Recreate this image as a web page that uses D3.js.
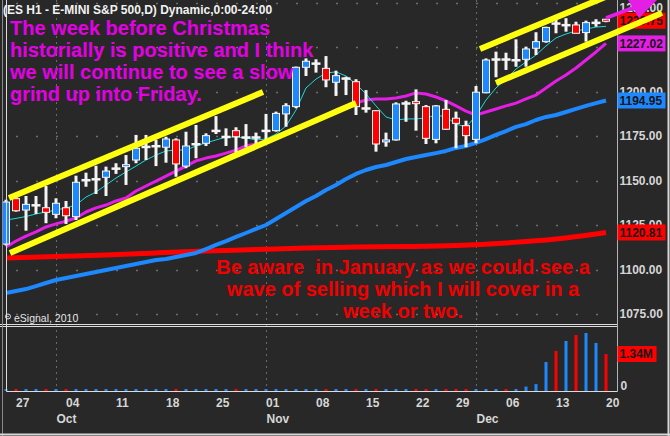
<!DOCTYPE html>
<html><head><meta charset="utf-8">
<script src="https://cdn.jsdelivr.net/npm/d3@7"></script>
<style>
html,body{margin:0;padding:0;background:#282828;}
svg{display:block;}
text{font-family:"Liberation Sans",Arial,sans-serif;}
</style>
</head><body>
<svg id="c" width="670" height="436"></svg>
<script>
// ---------------- DATA ----------------
const dates = [
 "2010-09-24","2010-09-27","2010-09-28","2010-09-29","2010-09-30",
 "2010-10-01","2010-10-04","2010-10-05","2010-10-06","2010-10-07","2010-10-08",
 "2010-10-11","2010-10-12","2010-10-13","2010-10-14","2010-10-15",
 "2010-10-18","2010-10-19","2010-10-20","2010-10-21","2010-10-22",
 "2010-10-25","2010-10-26","2010-10-27","2010-10-28","2010-10-29",
 "2010-11-01","2010-11-02","2010-11-03","2010-11-04","2010-11-05",
 "2010-11-08","2010-11-09","2010-11-10","2010-11-11","2010-11-12",
 "2010-11-15","2010-11-16","2010-11-17","2010-11-18","2010-11-19",
 "2010-11-22","2010-11-23","2010-11-24","2010-11-26",
 "2010-11-29","2010-11-30","2010-12-01","2010-12-02","2010-12-03",
 "2010-12-06","2010-12-07","2010-12-08","2010-12-09","2010-12-10",
 "2010-12-13","2010-12-14","2010-12-15","2010-12-16","2010-12-17",
 "2010-12-20"];

const openP = [1114.3,1139.8,1133.4,1136.2,1134.7,1131.0,1134.7,1129.7,1150.3,1150.8,
 1151.8,1156.8,1157.8,1161.5,1169.0,1169.4,1168.7,1172.8,1158.1,1170.5,
 1170.9,1178.0,1174.6,1178.0,1174.3,1174.3,1178.0,1178.0,1187.4,1191.5,
 1213.6,1215.8,1213.0,1205.2,1207.4,1205.5,1190.6,1189.2,1172.0,1172.8,
 1193.4,1194.3,1191.5,1173.1,1190.0,1185.0,1180.8,1173.1,1199.3,1218.1,
 1218.1,1217.7,1218.1,1224.3,1228.0,1238.3,1237.4,1237.4,1233.1,1238.7,
 1240.6];
const highP = [1139.2,1140.9,1141.3,1141.3,1146.9,1140.0,1138.5,1152.7,1154.4,1158.3,
 1157.8,1159.7,1164.3,1175.6,1175.6,1172.8,1174.6,1173.7,1177.4,1181.2,
 1176.5,1186.2,1179.3,1179.9,1181.7,1176.9,1187.4,1188.7,1193.4,1214.0,
 1218.6,1218.1,1219.9,1211.7,1208.3,1206.9,1200.8,1189.6,1176.9,1193.9,
 1194.8,1201.2,1192.4,1192.4,1195.2,1188.7,1183.6,1203.1,1218.6,1222.4,
 1221.8,1229.3,1225.2,1233.3,1236.4,1240.2,1241.2,1239.2,1239.8,1240.6,
 1240.8];
const lowP = [1113.5,1132.5,1121.8,1131.2,1126.0,1128.8,1125.6,1127.8,1146.5,1142.4,
 1141.3,1153.7,1147.5,1159.7,1161.5,1158.1,1160.0,1152.1,1156.9,1162.5,
 1169.4,1176.1,1169.4,1165.6,1168.7,1169.0,1172.8,1177.4,1180.2,1190.6,
 1208.7,1210.6,1202.4,1197.5,1198.0,1186.8,1188.1,1166.2,1169.0,1172.4,
 1183.0,1178.0,1170.5,1170.9,1178.4,1168.1,1168.7,1170.9,1199.0,1208.0,
 1212.1,1213.9,1213.9,1220.5,1227.4,1232.7,1233.6,1232.7,1228.0,1236.4,
 1238.9];
const closeP = [1137.9,1133.0,1136.6,1136.2,1132.1,1137.2,1130.2,1149.0,1150.3,1150.8,
 1155.3,1156.8,1158.9,1168.1,1169.0,1169.4,1173.3,1159.3,1169.4,1170.5,
 1175.2,1178.0,1174.6,1174.6,1174.3,1174.3,1178.0,1187.7,1192.0,1213.6,
 1217.0,1215.8,1206.5,1208.9,1207.4,1191.5,1190.6,1170.5,1172.8,1193.0,
 1193.4,1193.4,1173.7,1191.9,1178.8,1182.1,1175.2,1199.6,1217.7,1218.1,
 1218.1,1217.7,1223.9,1228.0,1236.0,1238.3,1237.4,1232.7,1238.7,1238.7,
 1239.75];

// volume in millions, and up/down colouring
const volume = [0.02,0.02,0.02,0.02,0.02,0.02,0.02,0.02,0.02,0.02,
 0.02,0.02,0.02,0.02,0.02,0.02,0.02,0.02,0.02,0.02,
 0.02,0.02,0.02,0.02,0.02,0.02,0.02,0.02,0.02,0.02,
 0.02,0.02,0.02,0.02,0.02,0.02,0.02,0.02,0.02,0.02,
 0.02,0.02,0.02,0.02,0.02,0.02,0.02,0.02,0.02,0.02,
 0.07,0.05,0.16,0.25,1.05,1.45,1.81,2.03,2.10,1.74,
 1.34];
const volDir = ["u","d","u","u","d","u","d","u","u","u",
 "u","u","u","u","u","u","u","d","u","u",
 "u","u","u","d","u","u","u","u","u","u",
 "u","u","d","u","u","d","u","d","u","u",
 "u","d","d","u","d","d","d","u","u","u",
 "d","u","u","u","u","d","u","d","u","u",
 "d"];

// moving averages
const maFast = [1127.8,1128.7,1129.8,1131.2,1132.3,1133.4,1134.6,1136.2,1140.7,1143.5,
 1147.5,1151.4,1154.8,1158.1,1161.5,1164.3,1166.6,1167.1,1167.1,1169.4,
 1171.1,1172.8,1174.4,1174.4,1173.9,1172.8,1173.3,1176.1,1180.6,1189.6,
 1202.0,1207.0,1210.4,1211.0,1208.7,1204.2,1198.6,1191.9,1185.7,1184.0,
 1184.6,1184.6,1185.1,1186.8,1185.7,1181.7,1180.1,1186.2,1195.2,1202.0,
 1207.0,1212.6,1216.6,1220.5,1225.6,1230.1,1232.3,1234.0,1235.1,1236.2,
 1236.6];
const maMid = [1112.6,1116.0,1118.8,1121.1,1123.9,1125.6,1127.2,1128.9,1132.3,1134.6,
 1136.2,1138.5,1140.2,1144.1,1146.9,1149.7,1152.5,1155.3,1158.1,1161.0,
 1162.6,1163.8,1165.4,1167.1,1169.4,1170.5,1172.2,1174.4,1177.2,1179.5,
 1181.2,1183.4,1186.8,1189.6,1191.9,1193.5,1195.2,1195.8,1195.8,1196.3,
 1197.5,1199.2,1198.6,1196.9,1194.7,1191.9,1189.0,1186.8,1188.5,1190.2,
 1191.9,1193.5,1195.8,1198.0,1202.0,1205.9,1209.3,1213.2,1217.7,1222.2,
 1227.02];
const maSlow = [1086.8,1087.9,1089.0,1090.7,1092.4,1094.1,1095.2,1096.3,1097.5,1098.6,
 1099.7,1100.8,1102.0,1103.1,1104.2,1105.3,1105.9,1107.0,1108.1,1109.3,
 1111.5,1113.8,1116.0,1118.3,1120.5,1122.8,1125.0,1128.4,1131.7,1135.1,
 1138.5,1141.3,1144.7,1147.5,1150.8,1153.7,1155.9,1157.6,1158.7,1160.4,
 1162.1,1163.2,1164.3,1165.4,1166.6,1168.3,1169.4,1171.1,1173.3,1175.6,
 1177.8,1180.1,1181.7,1184.0,1185.7,1186.8,1188.5,1190.2,1191.9,1193.5,
 1194.95];
const maLongIdx = [0,5,10,15,20,25,30,35,40,45,50,55,60];
const maLong = [1106.5,1107.3,1108.1,1109.3,1110.4,1111.2,1112.1,1112.6,1112.9,1113.5,1114.9,1117.1,1120.81];

// hand-drawn trend lines: [bar index, price] pairs
const trendLines = [
  [[0.3,1140.2],[25.7,1199.7]],
  [[0.4,1109.3],[35.0,1193.5]],
  [[47.4,1223.9],[61.1,1255.8]],
  [[49.0,1204.8],[65.6,1244.1]]
];

const gridTicks = [1075,1100,1125,1150,1175,1200,1225,1250];
const priceTicks = [1075,1100,1125,1150,1175,1200,1250];
const dayTicks = ["2010-09-27","2010-10-04","2010-10-11","2010-10-18","2010-10-25",
 "2010-11-01","2010-11-08","2010-11-15","2010-11-22","2010-11-29",
 "2010-12-06","2010-12-13","2010-12-20"];
const monthTicks = ["2010-10-01","2010-11-01","2010-12-01"];
const monthNames = ["Oct","Nov","Dec"];
const volTicks = [0];

const titleText = "(ES H1 - E-MINI S&P 500,D) Dynamic,0:00-24:00";
const noteMagenta = ["The week before Christmas","historially is positive and I think",
 "we will continue to see a slow","grind up into Friday."];
const noteRed = ["Be aware  in January as we could see a","wave of selling which I will cover in a","week or two."];

// ---------------- DRAW ----------------
const svg = d3.select("#c");
const BG = "#282828", BLUE = "#1e88ff", RED = "#ff0000", MAG = "#e41ee4", CYAN = "#16dcdc", YEL = "#ffff10";
const plotL = 6.5, plotR = 617.5, volBase = 391.5;

const x = d3.scalePoint().domain(dates).range([6, 606]);
const xi = d3.scaleLinear().domain([0, dates.length - 1]).range([6, 606]);
const y = d3.scaleLinear().domain([1075, 1250]).range([314, 2.5]);
const yv = d3.scaleLinear().domain([0, 2.1]).range([391, 333]);

svg.append("rect").attr("width", 670).attr("height", 436).attr("fill", BG);

// grid
const grid = svg.append("g");
grid.selectAll("line.h").data(gridTicks).join("line")
  .attr("x1", 16).attr("x2", 616).attr("y1", d => Math.round(y(d)) + 0.5).attr("y2", d => Math.round(y(d)) + 0.5)
  .attr("stroke", "#6e6e6e").attr("stroke-width", 1.5).attr("stroke-dasharray", "2,18");
grid.selectAll("line.v").data(monthTicks).join("line")
  .attr("x1", d => x(d) + 0.5).attr("x2", d => x(d) + 0.5).attr("y1", 0).attr("y2", 391)
  .attr("stroke", "#6a6a6a").attr("stroke-width", 1).attr("stroke-dasharray", "2,4");

// moving averages
const lineI = d3.line().x((d, i) => xi(i)).y(d => y(d));
svg.append("path").datum(maLong.map((v, k) => [maLongIdx[k], v]))
  .attr("d", d3.line().x(d => xi(d[0])).y(d => y(d[1])).curve(d3.curveMonotoneX))
  .attr("fill", "none").attr("stroke", RED).attr("stroke-width", 5);
svg.append("path").datum(maSlow).attr("d", lineI)
  .attr("fill", "none").attr("stroke", BLUE).attr("stroke-width", 4).attr("stroke-linejoin", "round");
svg.append("path").datum(maMid).attr("d", lineI)
  .attr("fill", "none").attr("stroke", MAG).attr("stroke-width", 3).attr("stroke-linejoin", "round");
svg.append("path").datum(maFast).attr("d", lineI)
  .attr("fill", "none").attr("stroke", CYAN).attr("stroke-width", 1);

// candles
const bars = dates.map((d, i) => ({d, i, o: openP[i], h: highP[i], l: lowP[i], c: closeP[i], v: volume[i], dir: volDir[i]}));
const cg = svg.append("g");
cg.selectAll("line.w").data(bars).join("line")
  .attr("x1", b => x(b.d)).attr("x2", b => x(b.d))
  .attr("y1", b => y(b.h)).attr("y2", b => y(b.l))
  .attr("stroke", "#f4f4f4").attr("stroke-width", 3);
const doji = bars.filter(b => Math.abs(b.c - b.o) < 0.3);
const body = bars.filter(b => Math.abs(b.c - b.o) >= 0.3);
cg.selectAll("rect.dj").data(doji).join("rect")
  .attr("x", b => x(b.d) - 4.5).attr("y", b => y(b.c) - 1).attr("width", 9).attr("height", 2.5)
  .attr("fill", "#f4f4f4");
cg.selectAll("rect.bd").data(body).join("rect")
  .attr("x", b => x(b.d) - 3.5)
  .attr("y", b => y(Math.max(b.o, b.c)))
  .attr("width", 7)
  .attr("height", b => Math.max(2, y(Math.min(b.o, b.c)) - y(Math.max(b.o, b.c))))
  .attr("fill", b => b.c > b.o ? BLUE : RED)
  .attr("stroke", "#f4f4f4").attr("stroke-width", 1);

// volume
svg.append("g").selectAll("line").data(bars).join("line")
  .attr("x1", b => x(b.d)).attr("x2", b => x(b.d))
  .attr("y1", yv(0)).attr("y2", b => Math.min(yv(0) - 2, yv(b.v)))
  .attr("stroke", b => b.dir === "u" ? BLUE : RED).attr("stroke-width", 3);

// frame lines
const fr = svg.append("g").attr("stroke", "#dcdcdc").attr("stroke-width", 1);
fr.append("line").attr("x1", 0).attr("x2", plotR).attr("y1", 324.5).attr("y2", 324.5);
fr.append("line").attr("x1", 0).attr("x2", plotR).attr("y1", 326.5).attr("y2", 326.5);
fr.append("line").attr("x1", plotL).attr("x2", plotL).attr("y1", 0).attr("y2", volBase);
fr.append("line").attr("x1", plotL).attr("x2", plotR).attr("y1", volBase).attr("y2", volBase);
fr.append("line").attr("x1", plotR).attr("x2", plotR).attr("y1", 0).attr("y2", volBase).attr("stroke", "#b4b4b4");
svg.append("line").attr("x1", 2.5).attr("x2", 2.5).attr("y1", 0).attr("y2", 436).attr("stroke", "#8a8a8a");
svg.append("line").attr("x1", 0).attr("x2", 670).attr("y1", 434.5).attr("y2", 434.5).attr("stroke", "#d8d8d8").attr("stroke-width", 2);
svg.append("line").attr("x1", 668.5).attr("x2", 668.5).attr("y1", 0).attr("y2", 436).attr("stroke", "#d8d8d8").attr("stroke-width", 2);

// price axis
const axY = svg.append("g").attr("transform", `translate(${plotR},0)`)
  .call(d3.axisRight(y).tickValues(priceTicks).tickFormat(d3.format(".2f")).tickSize(0).tickPadding(2));
axY.select(".domain").remove();
axY.selectAll("text").attr("fill", "#d6d6d6").attr("font-size", 12).attr("font-weight", "bold")
  .attr("font-family", "Liberation Sans, Arial, sans-serif");
axY.selectAll(".tick").filter(d => y(d) < 8).select("text").attr("y", 8 - y(1250));

// volume axis
const axV = svg.append("g").attr("transform", `translate(${plotR},0)`)
  .call(d3.axisRight(yv).tickValues(volTicks).tickFormat(d3.format("d")).tickSize(0).tickPadding(3));
axV.select(".domain").remove();
axV.selectAll("text").attr("fill", "#d6d6d6").attr("font-size", 12).attr("font-weight", "bold")
  .attr("font-family", "Liberation Sans, Arial, sans-serif").attr("y", -5);

// date axis
const axX = svg.append("g").attr("transform", `translate(0,${volBase})`)
  .call(d3.axisBottom(x).tickValues(dayTicks).tickFormat(d => d.slice(8)).tickSize(0));
axX.select(".domain").remove();
axX.selectAll("text").attr("fill", "#d6d6d6").attr("font-size", 12).attr("font-weight", "bold")
  .attr("font-family", "Liberation Sans, Arial, sans-serif")
  .attr("text-anchor", "start").attr("y", 15).attr("dy", null).attr("dx", -0.5);
const axM = svg.append("g").attr("transform", `translate(0,${volBase})`)
  .call(d3.axisBottom(x).tickValues(monthTicks).tickFormat(d => monthNames[monthTicks.indexOf(d)]).tickSize(0));
axM.select(".domain").remove();
axM.selectAll("text").attr("fill", "#d6d6d6").attr("font-size", 12).attr("font-weight", "bold")
  .attr("font-family", "Liberation Sans, Arial, sans-serif")
  .attr("text-anchor", "start").attr("y", 31.5).attr("dy", null).attr("dx", 0);

// last-value markers on the price axis
svg.append("line").attr("x1", plotR).attr("x2", 665).attr("y1", y(maFast[maFast.length - 1])).attr("y2", y(maFast[maFast.length - 1]))
  .attr("stroke", CYAN).attr("stroke-width", 1.5);
const markers = [
  {v: closeP[closeP.length - 1], c: RED},
  {v: maMid[maMid.length - 1], c: MAG},
  {v: maSlow[maSlow.length - 1], c: BLUE},
  {v: maLong[maLong.length - 1], c: RED}
];
const mk = svg.append("g").selectAll("g").data(markers).join("g")
  .attr("transform", d => `translate(${plotR},${y(d.v)})`);
mk.append("rect").attr("x", 0).attr("y", -8).attr("width", 48).attr("height", 16).attr("fill", d => d.c);
mk.append("text").attr("x", 2).attr("y", 4.5).text(d => d3.format(".2f")(d.v))
  .attr("fill", "#161616").attr("font-size", 12).attr("font-weight", "bold");
const vm = svg.append("g").attr("transform", `translate(${plotR},${yv(volume[volume.length - 1])})`);
vm.append("rect").attr("x", 0).attr("y", -8).attr("width", 39).attr("height", 16).attr("fill", RED);
vm.append("text").attr("x", 2).attr("y", 4.5).text(d3.format(".2f")(volume[volume.length - 1]) + "M")
  .attr("fill", "#161616").attr("font-size", 12).attr("font-weight", "bold");

// trend lines
svg.append("g").selectAll("line").data(trendLines).join("line")
  .attr("x1", d => xi(d[0][0])).attr("y1", d => y(d[0][1]))
  .attr("x2", d => xi(d[1][0])).attr("y2", d => y(d[1][1]))
  .attr("stroke", YEL).attr("stroke-width", 6);

// texts
svg.append("text").attr("x", 3).attr("y", 14).text(titleText)
  .attr("fill", "#f2f2f2").attr("font-size", 12).attr("font-weight", "bold");
svg.append("g").selectAll("text").data(noteMagenta).join("text")
  .attr("x", 10).attr("y", (d, i) => 35.2 + i * 21.8).text(d => d)
  .attr("fill", "#e400e4").attr("font-size", 20).attr("font-weight", "bold");
svg.append("g").selectAll("text").data(noteRed).join("text")
  .attr("x", 403).attr("y", (d, i) => 273.5 + i * 22).attr("text-anchor", "middle")
  .style("white-space", "pre").text(d => d)
  .attr("fill", "#f00000").attr("font-size", 20).attr("font-weight", "bold");
svg.append("circle").attr("cx", 8).attr("cy", 316.5).attr("r", 2.5).attr("fill", "none").attr("stroke", "#e6e6e6").attr("stroke-width", 1);
svg.append("circle").attr("cx", 8).attr("cy", 316.5).attr("r", 0.8).attr("fill", "#e6e6e6");
svg.append("text").attr("x", 14).attr("y", 321.5).text("eSignal, 2010")
  .attr("fill", "#e6e6e6").attr("font-size", 10.5);

// arrow
svg.append("line").attr("x1", 606).attr("y1", 18).attr("x2", 634).attr("y2", 7.5)
  .attr("stroke", MAG).attr("stroke-width", 3.5);
svg.append("polygon").attr("points", "628,0 657,0 639,18").attr("fill", MAG);
</script>
</body></html>
